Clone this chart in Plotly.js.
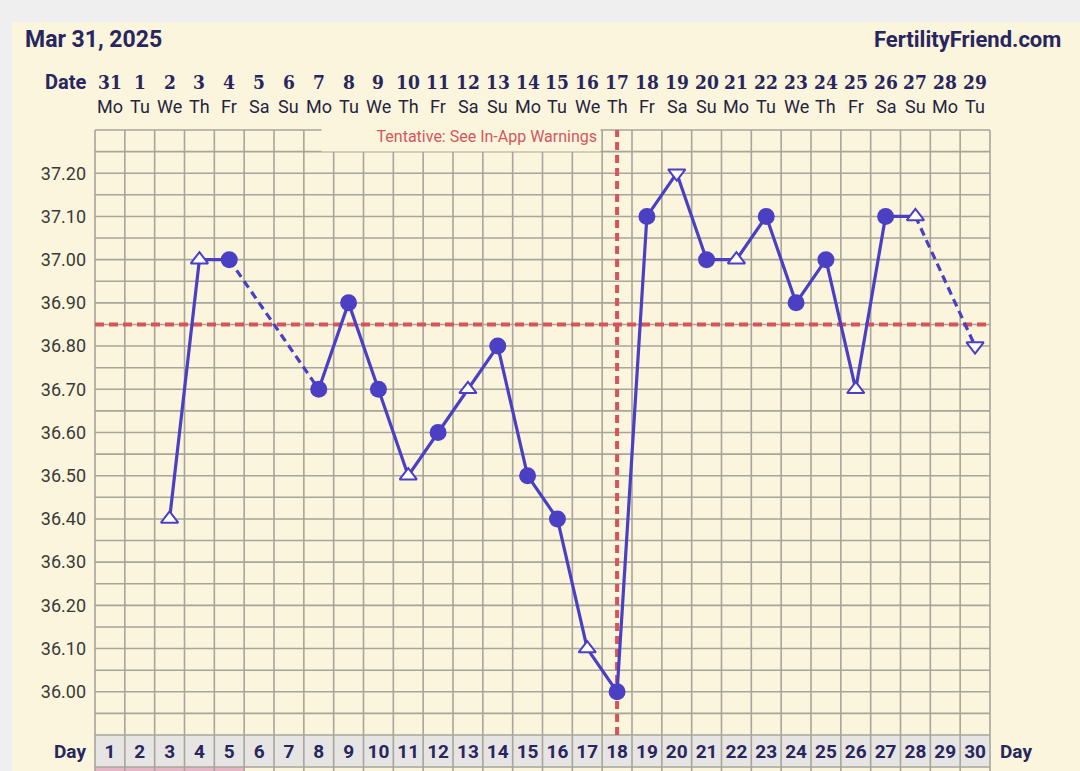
<!DOCTYPE html>
<html><head><meta charset="utf-8">
<script src="https://cdn.plot.ly/plotly-3.0.1.min.js"></script>
<style>html,body{margin:0;padding:0;background:#faf5dc;} #chart{width:1080px;height:771px;}</style>
</head><body><div id="chart"></div>
<script>
// ---------- data ----------
const cycleDays = [1,2,3,4,5,6,7,8,9,10,11,12,13,14,15,16,17,18,19,20,21,22,23,24,25,26,27,28,29,30];
const dateLabels = ['31','1','2','3','4','5','6','7','8','9','10','11','12','13','14','15','16','17','18','19','20','21','22','23','24','25','26','27','28','29'];
const weekdayLabels = ['Mo','Tu','We','Th','Fr','Sa','Su','Mo','Tu','We','Th','Fr','Sa','Su','Mo','Tu','We','Th','Fr','Sa','Su','Mo','Tu','We','Th','Fr','Sa','Su','Mo','Tu'];
const temps = [null,null,36.40,37.00,37.00,null,null,36.70,36.90,36.70,36.50,36.60,36.70,36.80,36.50,36.40,36.10,36.00,37.10,37.20,37.00,37.00,37.10,36.90,37.00,36.70,37.10,37.10,null,36.80];
const markerKinds = [null,null,'up','up','dot',null,null,'dot','dot','dot','up','dot','up','dot','dot','dot','up','dot','dot','down','dot','up','dot','dot','dot','up','dot','up',null,'down'];
const tempTicks = [36.00,36.10,36.20,36.30,36.40,36.50,36.60,36.70,36.80,36.90,37.00,37.10,37.20];
const periodDays = [1,2,3,4,5];
const coverline = 36.85;
const ovulationDay = 18;
const chartDate = 'Mar 31, 2025';
const siteName = 'FertilityFriend.com';
const warningText = 'Tentative: See In-App Warnings';

// ---------- styling ----------
const CREAM = '#faf5dc', NAVY = '#28265e', BLUE = '#4b3fc4', RED = '#d6545a', GRID = '#a8a59a';
const L = 95, R = 990, T = 130, B = 735, W = R - L, H = B - T;
const px = x => (x - L) / W;
const py = y => (B - y) / H;
const yRange = [35.9, 37.3];

const symbols = markerKinds.map(k => k === 'up' ? 'triangle-up' : k === 'down' ? 'triangle-down' : 'circle');
const mColors = markerKinds.map(k => k === 'dot' ? BLUE : '#ffffff');
const mSizes = markerKinds.map(k => k === 'dot' ? 17 : 15);
const mLineW = markerKinds.map(k => k === 'dot' ? 0 : 2);

// dashed bridges across missing days
const dx = [], dy = [];
for (let i = 0; i < temps.length; i++) {
  if (temps[i] !== null && i + 1 < temps.length && temps[i + 1] === null) {
    let j = i + 1;
    while (j < temps.length && temps[j] === null) j++;
    if (j < temps.length) { dx.push(cycleDays[i], cycleDays[j], null); dy.push(temps[i], temps[j], null); }
  }
}

const traces = [
  { x: dx, y: dy, mode: 'lines', line: { color: BLUE, width: 3.2, dash: '8px,5px' }, hoverinfo: 'skip', showlegend: false, connectgaps: false },
  { x: cycleDays, y: temps, mode: 'lines+markers', connectgaps: false, showlegend: false,
    line: { color: BLUE, width: 3.2 },
    marker: { symbol: symbols, color: mColors, size: mSizes, opacity: 1, line: { color: BLUE, width: mLineW } } }
];

// ---------- shapes ----------
const shapes = [];
shapes.push({ type: 'rect', xref: 'paper', yref: 'paper', x0: px(0), x1: px(12), y0: py(771), y1: py(0), fillcolor: '#efefef', line: { width: 0 }, layer: 'below' });
shapes.push({ type: 'rect', xref: 'paper', yref: 'paper', x0: px(0), x1: px(1080), y0: py(22), y1: py(0), fillcolor: '#efefef', line: { width: 0 }, layer: 'below' });
shapes.push({ type: 'rect', xref: 'x', yref: 'paper', x0: 0.5, x1: 30.5, y0: py(767), y1: 0, fillcolor: '#e6e5e3', line: { width: 0 }, layer: 'below' });
periodDays.forEach(d => shapes.push({ type: 'rect', xref: 'x', yref: 'paper', x0: d - 0.5, x1: d + 0.5, y0: py(780), y1: py(767), fillcolor: '#e6b6c6', line: { width: 0 }, layer: 'below' }));
const nH = Math.round((yRange[1] - yRange[0]) / 0.05);
for (let k = 0; k <= nH; k++) {
  const v = +(yRange[0] + k * 0.05).toFixed(2);
  if (k === 0 || k === nH) shapes.push({ type: 'line', xref: 'paper', yref: 'paper', x0: 0, x1: 1, y0: k === 0 ? 0 : 1, y1: k === 0 ? 0 : 1, line: { color: GRID, width: 1.6 }, layer: 'below' });
  else shapes.push({ type: 'line', xref: 'paper', yref: 'y', x0: 0, x1: 1, y0: v, y1: v, line: { color: GRID, width: 1.6 }, layer: 'below' });
}
shapes.push({ type: 'line', xref: 'paper', yref: 'paper', x0: 0, x1: 1, y0: py(767), y1: py(767), line: { color: GRID, width: 1.6 }, layer: 'below' });
for (let b = 0; b <= cycleDays.length; b++) {
  const xv = b + 0.5;
  if (b === 0 || b === cycleDays.length) shapes.push({ type: 'line', xref: 'paper', yref: 'paper', x0: b === 0 ? 0 : 1, x1: b === 0 ? 0 : 1, y0: py(771), y1: 1, line: { color: GRID, width: 1.6 }, layer: 'below' });
  else shapes.push({ type: 'line', xref: 'x', yref: 'paper', x0: xv, x1: xv, y0: py(771), y1: 1, line: { color: GRID, width: 1.6 }, layer: 'below' });
}
shapes.push({ type: 'line', xref: 'paper', yref: 'y', x0: 0, x1: 1, y0: coverline, y1: coverline, line: { color: RED, width: 4, dash: '9px,5px' }, layer: 'between' });
shapes.push({ type: 'line', xref: 'x', yref: 'paper', x0: ovulationDay, x1: ovulationDay, y0: 0, y1: 1, line: { color: RED, width: 4, dash: '8px,5px' }, layer: 'between' });

// ---------- annotations ----------
const ann = [];
const F = 'Roboto, "Noto Sans", sans-serif';
ann.push({ xref: 'paper', yref: 'paper', x: px(23), y: py(39), xanchor: 'left', yanchor: 'middle', showarrow: false, text: '<b>' + chartDate + '</b>', font: { family: F, size: 23, color: NAVY } });
ann.push({ xref: 'paper', yref: 'paper', x: px(1063), y: py(39), xanchor: 'right', yanchor: 'middle', showarrow: false, text: '<b>' + siteName + '</b>', font: { family: F, size: 22, color: NAVY } });
ann.push({ xref: 'paper', yref: 'paper', x: px(88), y: py(82), xanchor: 'right', yanchor: 'middle', showarrow: false, text: '<b>Date</b>', font: { family: F, size: 20, color: NAVY } });
ann.push({ xref: 'paper', yref: 'paper', x: px(88), y: py(751), xanchor: 'right', yanchor: 'middle', showarrow: false, text: '<b>Day</b>', font: { family: F, size: 19, color: NAVY } });
ann.push({ xref: 'paper', yref: 'paper', x: px(998), y: py(751), xanchor: 'left', yanchor: 'middle', showarrow: false, text: '<b>Day</b>', font: { family: F, size: 19, color: NAVY } });
cycleDays.forEach((d, i) => {
  ann.push({ xref: 'x', yref: 'paper', x: d, y: py(82), xanchor: 'center', yanchor: 'middle', showarrow: false, text: '<b>' + dateLabels[i] + '</b>', font: { family: '"DejaVu Serif Condensed", "DejaVu Serif", serif', size: 19, color: NAVY } });
  ann.push({ xref: 'x', yref: 'paper', x: d, y: py(106), xanchor: 'center', yanchor: 'middle', showarrow: false, text: weekdayLabels[i], font: { family: F, size: 18, color: '#26243e' } });
});
ann.push({ xref: 'paper', yref: 'paper', x: px(601), y: py(136), xanchor: 'right', yanchor: 'middle', showarrow: false, text: warningText, align: 'right', width: 272, height: 24, borderpad: 3, bgcolor: CREAM, font: { family: F, size: 16, color: '#d4575d' } });

// ---------- layout ----------
const axisFont = { family: F, size: 18, color: '#3a3a3a' };
const layout = {
  width: 1080, height: 771,
  margin: { l: L, r: 1080 - R, t: T, b: 771 - B, pad: 0 },
  paper_bgcolor: CREAM, plot_bgcolor: CREAM,
  showlegend: false,
  xaxis: { range: [0.5, 30.5], fixedrange: true, showgrid: false, zeroline: false, showline: false,
    tickmode: 'array', tickvals: cycleDays, ticktext: cycleDays.map(String), ticks: '', ticklabelstandoff: 3,
    tickfont: { family: F, size: 19, color: NAVY, weight: 'bold' } },
  yaxis: { range: yRange, fixedrange: true, showgrid: false, zeroline: false, showline: false,
    tickmode: 'array', tickvals: tempTicks, ticktext: tempTicks.map(v => v.toFixed(2)), ticks: '', ticklabelstandoff: 8, tickfont: axisFont },
  yaxis2: { range: yRange, overlaying: 'y', side: 'right', anchor: 'x', fixedrange: true, showgrid: false, zeroline: false, showline: false,
    tickmode: 'array', tickvals: tempTicks, ticktext: tempTicks.map(v => v.toFixed(2)), ticks: '', ticklabelstandoff: 8, tickfont: axisFont },
  shapes: shapes,
  annotations: ann
};
Plotly.newPlot('chart', traces, layout, { staticPlot: true, displayModeBar: false });
</script>
</body></html>
